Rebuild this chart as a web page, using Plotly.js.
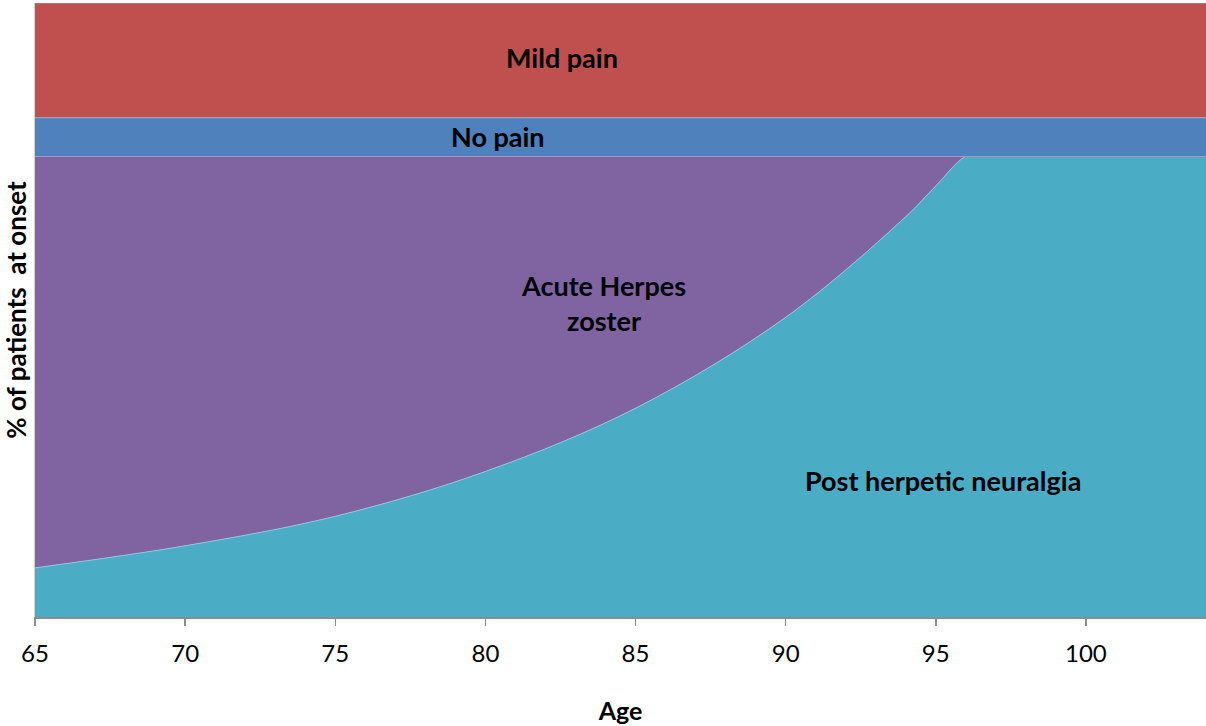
<!DOCTYPE html>
<html>
<head>
<meta charset="utf-8">
<script src="https://cdn.plot.ly/plotly-3.0.1.min.js"></script>
<style>
  html, body { margin: 0; padding: 0; background: #ffffff; }
  #chart { width: 1206px; height: 726px; }
</style>
</head>
<body>
<div id="chart"></div>
<script>
// Age (years)
const ages = [65, 70, 75, 80, 85, 90, 94, 95, 96, 96.5, 104];
// % of patients at onset (stacked from bottom)
const postHerpetic = [8.0, 11.6, 16.4, 23.7, 34.0, 48.8, 65.2, 70.2, 75.0, 75.0, 75.0];
const acuteHerpes  = [67.0, 63.4, 58.6, 51.3, 41.0, 26.2, 9.8, 4.8, 0.0, 0.0, 0.0];
const noPain       = [6.3, 6.3, 6.3, 6.3, 6.3, 6.3, 6.3, 6.3, 6.3, 6.3, 6.3];
const mildPain     = [18.7, 18.7, 18.7, 18.7, 18.7, 18.7, 18.7, 18.7, 18.7, 18.7, 18.7];
const seriesNames = ["Post herpetic neuralgia", "Acute Herpes zoster", "No pain", "Mild pain"];
const xTicks = [65, 70, 75, 80, 85, 90, 95, 100];

const colors = ["#4BACC6", "#8064A2", "#4F81BD", "#C0504D"];
const lineColors = ["#8cc9dc", "#a993c4", "#8fb0d9", "#a0a0a0"];
const shapes = ["spline", "linear", "linear", "linear"];
const seriesData = [postHerpetic, acuteHerpes, noPain, mildPain];

const traces = seriesData.map((vals, i) => ({
  type: "scatter",
  mode: "lines",
  x: ages,
  y: vals,
  name: seriesNames[i],
  stackgroup: "one",
  fillcolor: colors[i],
  line: { color: lineColors[i], width: 1, shape: shapes[i], smoothing: 1 },
  hoverinfo: "skip"
}));

const fam = "Lato, 'Open Sans', sans-serif";
const labelFont = { family: fam, size: 27, color: "#000000", weight: "bold" };

const layout = {
  width: 1206,
  height: 726,
  margin: { l: 35, r: 0, t: 3, b: 109 },
  paper_bgcolor: "#ffffff",
  plot_bgcolor: "#ffffff",
  showlegend: false,
  font: { family: fam, color: "#000000" },
  xaxis: {
    range: [65, 104],
    tickmode: "array",
    tickvals: xTicks,
    ticktext: xTicks.map(String),
    ticks: "outside",
    ticklen: 7,
    tickwidth: 1.5,
    tickcolor: "#8c8c8c",
    ticklabelstandoff: 8,
    showline: true,
    linecolor: "#8c8c8c",
    linewidth: 1.5,
    showgrid: false,
    zeroline: false,
    tickfont: { family: fam, size: 24, color: "#000000" },
    title: { text: "Age", font: { family: fam, size: 25, color: "#000000", weight: "bold" }, standoff: 36 },
    fixedrange: true
  },
  yaxis: {
    range: [0, 100],
    showticklabels: false,
    ticks: "",
    showgrid: false,
    zeroline: false,
    showline: true,
    linecolor: "#d0d0d0",
    linewidth: 1,
    title: { text: "% of patients  at onset", font: { family: fam, size: 26, color: "#000000", weight: "bold" }, standoff: 8 },
    fixedrange: true
  },
  annotations: [
    { x: 82.55, y: 91.2, text: "Mild pain", showarrow: false, font: labelFont, xanchor: "center", yanchor: "middle" },
    { x: 80.42, y: 78.2, text: "No pain", showarrow: false, font: labelFont, xanchor: "center", yanchor: "middle" },
    { x: 83.95, y: 51.2, text: "Acute Herpes<br>zoster", showarrow: false, font: labelFont, xanchor: "center", yanchor: "middle", align: "center" },
    { x: 95.24, y: 22.2, text: "Post herpetic neuralgia", showarrow: false, font: labelFont, xanchor: "center", yanchor: "middle" }
  ]
};

Plotly.newPlot("chart", traces, layout, { displayModeBar: false, staticPlot: true });
</script>
</body>
</html>
